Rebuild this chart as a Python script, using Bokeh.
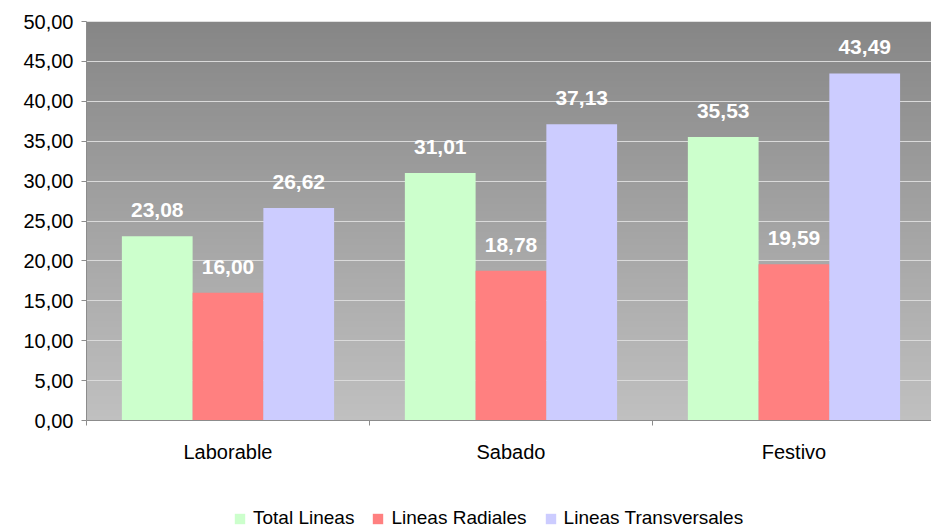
import numpy as np
from bokeh.plotting import figure
from bokeh.layouts import column
from bokeh.core.properties import value
from bokeh.models import (ColumnDataSource, FixedTicker, Range1d, LinearColorMapper,
                          Legend, LegendItem, LabelSet)
from bokeh.embed import file_html
from bokeh.resources import INLINE

categories = ["Laborable", "Sabado", "Festivo"]
series_names = ["Total Lineas", "Lineas Radiales", "Lineas Transversales"]
total_lineas = [23.08, 31.01, 35.53]
lineas_radiales = [16.00, 18.78, 19.59]
lineas_transversales = [26.62, 37.13, 43.49]
series_values = [total_lineas, lineas_radiales, lineas_transversales]
series_colors = ["#CCFFCC", "#FF8080", "#CCCCFF"]
y_ticks = [0, 5, 10, 15, 20, 25, 30, 35, 40, 45, 50]

FONT = "Liberation Sans"

p = figure(width=931, height=490, output_backend="svg", toolbar_location=None,
           x_range=Range1d(0, 2.986), y_range=Range1d(0, 50),
           min_border_left=86, min_border_right=0, min_border_top=21, min_border_bottom=70)
p.outline_line_color = None
p.background_fill_color = "#FFFFFF"

# gradient plot-area background
n = 256
grad = np.linspace(0, 1, n).reshape(n, 1)
grays = []
for t in np.linspace(0, 1, 256):
    c = int(round(192 + (134 - 192) * t))
    grays.append("#%02x%02x%02x" % (c, c, c))
mapper = LinearColorMapper(palette=grays, low=0, high=1)
p.image(image=[grad], x=0, y=0, dw=3, dh=50, color_mapper=mapper, level="image")

# grid
p.xgrid.visible = False
p.ygrid.ticker = FixedTicker(ticks=y_ticks)
p.ygrid.grid_line_color = "#DADADA"
p.ygrid.grid_line_width = 1

# axes
p.yaxis.ticker = FixedTicker(ticks=y_ticks)
p.yaxis.major_label_overrides = {v: f"{v:.2f}".replace(".", ",") for v in y_ticks}
p.yaxis.axis_line_color = "#8C8C8C"
p.yaxis.major_tick_line_color = "#8C8C8C"
p.yaxis.major_tick_out = 5
p.yaxis.major_tick_in = 0
p.yaxis.minor_tick_line_color = None
p.yaxis.major_label_standoff = 8
p.yaxis.major_label_text_font = FONT
p.yaxis.major_label_text_font_size = "20px"
p.yaxis.major_label_text_color = "#000000"

centers = [i + 0.5 for i in range(len(categories))]
p.xaxis.ticker = FixedTicker(ticks=centers, minor_ticks=list(range(len(categories) + 1)))
p.xaxis.major_label_overrides = {c: lab for c, lab in zip(centers, categories)}
p.xaxis.axis_line_color = "#8C8C8C"
p.xaxis.axis_line_width = 1
p.xaxis.major_tick_line_color = None
p.xaxis.major_tick_out = 0
p.xaxis.major_tick_in = 0
p.xaxis.minor_tick_line_color = "#8C8C8C"
p.xaxis.minor_tick_out = 5
p.xaxis.minor_tick_in = 0
p.xaxis.major_label_standoff = 15
p.xaxis.major_label_text_font = FONT
p.xaxis.major_label_text_font_size = "20px"
p.xaxis.major_label_text_color = "#000000"

bar_w = 0.25
offsets = [-bar_w, 0.0, bar_w]
for name, vals, col, off in zip(series_names, series_values, series_colors, offsets):
    src = ColumnDataSource(dict(
        x=[c + off for c in centers],
        top=vals,
        lab=[f"{v:.2f}".replace(".", ",") for v in vals],
    ))
    p.vbar(x="x", top="top", width=bar_w, bottom=0, source=src,
           fill_color=col, line_color=None)
    labels = LabelSet(x="x", y="top", text="lab", source=src,
                      text_align=value("center"), text_baseline=value("alphabetic"),
                      y_offset=19, text_color=value("#FFFFFF"),
                      text_font=value(FONT), text_font_style=value("bold"),
                      text_font_size=value("21px"))
    p.add_layout(labels)

# legend strip below the chart
lg = figure(width=931, height=39, output_backend="svg", toolbar_location=None,
            x_range=Range1d(0, 1), y_range=Range1d(0, 1),
            x_axis_type=None, y_axis_type=None, min_border=0)
lg.outline_line_color = None
lg.grid.visible = False
items = []
for name, col in zip(series_names, series_colors):
    # swatch-only renderer, kept outside the visible range
    r = lg.vbar(x=[5], top=[1], width=0.1, fill_color=col, line_color=None)
    items.append(LegendItem(label=name, renderers=[r]))
legend = Legend(items=items, orientation="horizontal", location=(147, 0),
                glyph_width=13, glyph_height=13, label_height=16, label_standoff=7,
                spacing=17, padding=0, margin=0, border_line_color=None,
                background_fill_alpha=0, label_text_font=FONT,
                label_text_font_size="19px", label_text_color="#000000")
lg.add_layout(legend, "center")

open("out.html", "w").write(file_html(column(p, lg), INLINE))
